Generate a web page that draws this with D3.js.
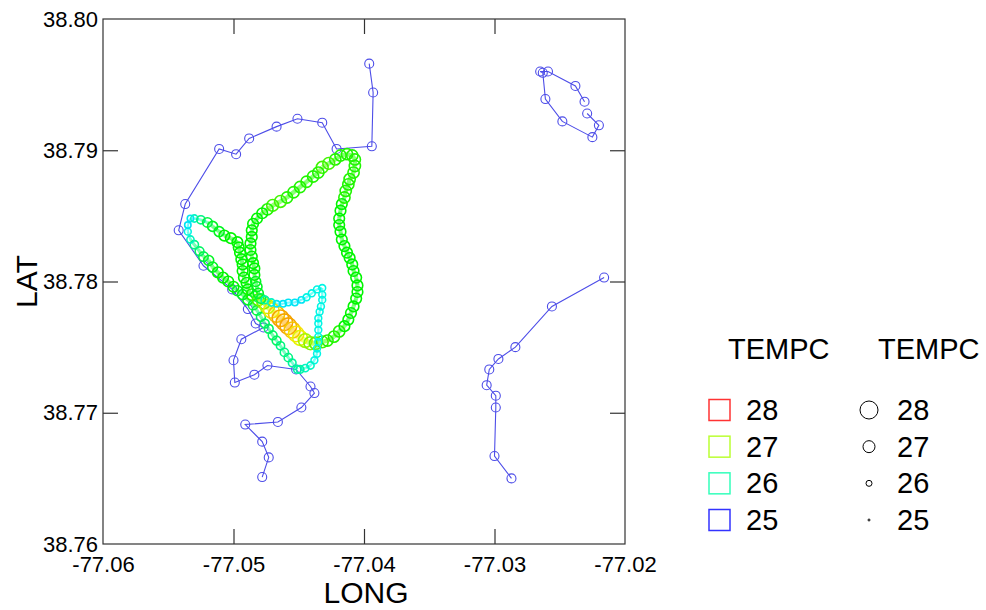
<!DOCTYPE html>
<html><head><meta charset="utf-8">
<script src="https://cdn.jsdelivr.net/npm/d3@7"></script>
<style>body{margin:0;background:#fff} text{font-family:"Liberation Sans",Arial,sans-serif;fill:#000}</style>
</head><body><svg id="c" width="986" height="610"></svg>
<script>
// ---- axis ticks ----
const LONG_TICKS = [-77.06, -77.05, -77.04, -77.03, -77.02];
const LAT_TICKS = [38.76, 38.77, 38.78, 38.79, 38.80];
const LEGEND_TEMPS = [28, 27, 26, 25];

// ---- sparse tracks (TEMPC ~25) ----
const trackA_long = [-77.0396,-77.0393,-77.0394,-77.0421,-77.0432,-77.0451,-77.0467,-77.0488,-77.0498,-77.0511,-77.0537,-77.0542,-77.0523,-77.0501,-77.0489,-77.0483,-77.0477,-77.0494,-77.0500,-77.0499,-77.0484,-77.0474,-77.0452,-77.0441,-77.0438,-77.0448,-77.0466,-77.0491,-77.0478,-77.0473,-77.0478];
const trackA_lat  = [38.7966,38.7944,38.7903,38.7901,38.7921,38.7924,38.7918,38.7909,38.7897,38.7901,38.7859,38.7839,38.7812,38.7794,38.7779,38.7768,38.7765,38.7756,38.7740,38.7723,38.7729,38.7736,38.7733,38.7720,38.7715,38.7704,38.7693,38.7691,38.7678,38.7666,38.7651];
const trackB_long = [-77.0229,-77.0220,-77.0225,-77.0248,-77.0261,-77.0263,-77.0265,-77.0259,-77.0238,-77.0231];
const trackB_lat  = [38.7928,38.7919,38.7910,38.7922,38.7939,38.7959,38.7960,38.7960,38.7949,38.7937];
const trackC_long = [-77.0216,-77.0256,-77.0284,-77.0297,-77.0304,-77.0306,-77.0299,-77.0299,-77.0300,-77.0287];
const trackC_lat  = [38.7803,38.7781,38.7750,38.7741,38.7733,38.7721,38.7713,38.7704,38.7667,38.7650];

// ---- dense track with temperature ----
const dense_long = [
 -77.0451,-77.0455,-77.0458,-77.0461,-77.0464,-77.0467,-77.0470,-77.0473,-77.0476,-77.0479,-77.0482,-77.0485,-77.0489,-77.0493,-77.0497,-77.0500,-77.0504,-77.0508,-77.0512,-77.0516,-77.0519,-77.0523,-77.0526,-77.0530,-77.0533,-77.0535,-77.0535,-77.0533,
 -77.0530,-77.0525,-77.0520,-77.0516,-77.0511,-77.0507,-77.0502,-77.0497,-77.0496,-77.0495,-77.0494,-77.0493,-77.0493,-77.0492,-77.0490,-77.0489,-77.0486,-77.0481,
 -77.0477,-77.0474,-77.0471,-77.0467,-77.0464,-77.0461,-77.0458,-77.0455,-77.0452,-77.0449,-77.0445,-77.0441,-77.0437,-77.0432,-77.0428,-77.0423,-77.0419,-77.0415,-77.0412,-77.0410,-77.0408,-77.0406,-77.0405,-77.0405,-77.0406,-77.0408,-77.0409,-77.0411,-77.0413,-77.0415,-77.0417,-77.0418,-77.0419,-77.0419,-77.0418,-77.0417,-77.0415,-77.0414,-77.0412,-77.0411,-77.0408,-77.0407,-77.0407,-77.0409,-77.0413,-77.0418,-77.0422,-77.0427,-77.0432,-77.0435,-77.0439,-77.0444,-77.0449,-77.0454,-77.0459,-77.0464,-77.0470,-77.0474,-77.0478,-77.0482,-77.0485,-77.0486,-77.0486,-77.0487,-77.0487,-77.0486,-77.0485,-77.0484,-77.0484,-77.0483,-77.0482,-77.0481,-77.0479,
 -77.0476,-77.0471,-77.0467,-77.0462,-77.0458,-77.0453,-77.0448,-77.0444,-77.0440,-77.0436,-77.0432,-77.0432,-77.0432,-77.0433,-77.0434,-77.0435,-77.0435,-77.0435,-77.0435,-77.0435,-77.0436,-77.0436,-77.0438,-77.0441,-77.0445,-77.0449];
const dense_lat = [
 38.7733,38.7738,38.7742,38.7746,38.7751,38.7755,38.7759,38.7764,38.7768,38.7773,38.7778,38.7782,38.7786,38.7790,38.7793,38.7796,38.7800,38.7803,38.7807,38.7811,38.7816,38.7819,38.7823,38.7828,38.7832,38.7838,38.7843,38.7848,
 38.7848,38.7847,38.7845,38.7842,38.7838,38.7835,38.7833,38.7830,38.7826,38.7822,38.7817,38.7813,38.7808,38.7803,38.7799,38.7794,38.7790,38.7786,
 38.7784,38.7781,38.7778,38.7775,38.7772,38.7769,38.7766,38.7763,38.7760,38.7757,38.7755,38.7753,38.7753,38.7754,38.7755,38.7758,38.7762,38.7766,38.7771,38.7776,38.7781,38.7787,38.7792,38.7797,38.7803,38.7808,38.7813,38.7818,38.7822,38.7827,38.7832,38.7838,38.7843,38.7848,38.7854,38.7859,38.7864,38.7869,38.7874,38.7878,38.7883,38.7888,38.7893,38.7896,38.7897,38.7896,38.7893,38.7890,38.7887,38.7883,38.7880,38.7876,38.7872,38.7868,38.7864,38.7861,38.7858,38.7855,38.7852,38.7848,38.7844,38.7839,38.7834,38.7829,38.7824,38.7819,38.7814,38.7810,38.7805,38.7800,38.7796,38.7791,38.7787,
 38.7786,38.7784,38.7783,38.7783,38.7784,38.7784,38.7786,38.7788,38.7791,38.7794,38.7795,38.7790,38.7786,38.7781,38.7777,38.7772,38.7768,38.7763,38.7758,38.7754,38.7749,38.7745,38.7740,38.7736,38.7734,38.7733];
const dense_temp = [
 26.0,26.0,26.1,26.1,26.1,26.2,26.2,26.2,26.2,26.2,26.3,26.3,26.4,26.4,26.4,26.5,26.5,26.5,26.5,26.4,26.4,26.3,26.2,26.1,25.9,25.8,25.7,25.7,
 25.9,26.1,26.3,26.4,26.4,26.5,26.5,26.5,26.5,26.5,26.5,26.5,26.5,26.5,26.5,26.5,26.6,26.7,
 26.9,27.1,27.3,27.4,27.5,27.5,27.5,27.4,27.3,27.2,27.0,26.9,26.8,26.7,26.6,26.6,26.6,26.5,26.5,26.5,26.5,26.5,26.5,26.5,26.5,26.5,26.5,26.5,26.5,26.5,26.5,26.5,26.5,26.5,26.5,26.5,26.6,26.6,26.6,26.6,26.6,26.6,26.6,26.6,26.6,26.6,26.6,26.7,26.7,26.6,26.6,26.6,26.6,26.6,26.6,26.7,26.7,26.6,26.5,26.5,26.5,26.5,26.5,26.5,26.5,26.5,26.5,26.5,26.5,26.4,26.4,26.4,26.3,
 26.0,25.9,25.7,25.7,25.7,25.7,25.7,25.8,25.8,25.8,25.8,25.8,25.8,25.8,25.8,25.8,25.8,25.8,25.8,25.8,25.8,25.8,25.8,25.9,25.9,26.0];

// ---- setup ----
const svg = d3.select("#c");
const L = 103, R = 625, T = 19, B = 544;
const x = d3.scaleLinear().domain([-77.06, -77.02]).range([L, R]);
const y = d3.scaleLinear().domain([38.76, 38.80]).range([B, T]);
const rScale = d3.scaleLinear().domain([25, 26, 27, 28]).range([1, 3, 6, 9]);
const hue = d3.scaleLinear().domain([25, 28]).range([240, 0]).clamp(true);
const tcol = (t, l) => d3.hsl(hue(t), 1, l).formatHex();
const BLUE = "#4d4de8";
const FONT = '"Liberation Sans", Arial, sans-serif';

// frame
svg.append("rect").attr("x", L).attr("y", T).attr("width", R - L).attr("height", B - T)
  .attr("fill", "none").attr("stroke", "#333").attr("stroke-width", 1.2);

// inward ticks on all sides
const inner = LONG_TICKS.slice(1, -1), innerY = LAT_TICKS.slice(1, -1);
function tickAxis(axis, tx, ty) {
  const g = svg.append("g").attr("transform", `translate(${tx},${ty})`).call(axis);
  g.select(".domain").remove();
  g.selectAll("line").attr("stroke", "#333").attr("stroke-width", 1.2);
  g.selectAll("text").remove();
}
tickAxis(d3.axisBottom(x).tickValues(inner).tickSize(-15), 0, B);
tickAxis(d3.axisTop(x).tickValues(inner).tickSize(-15), 0, T);
tickAxis(d3.axisLeft(y).tickValues(innerY).tickSize(-15), L, 0);
tickAxis(d3.axisRight(y).tickValues(innerY).tickSize(-15), R, 0);

// tick labels
const gx = svg.append("g").attr("transform", `translate(0,${B})`)
  .call(d3.axisBottom(x).tickValues(LONG_TICKS).tickSize(0).tickPadding(0).tickFormat(d => d.toFixed(2)));
gx.select(".domain").remove();
gx.selectAll("text").attr("font-size", 22).attr("dy", null).attr("y", 28)
  .style("font-family", FONT).attr("fill", "#000");
const gy = svg.append("g").attr("transform", `translate(${L},0)`)
  .call(d3.axisLeft(y).tickValues(LAT_TICKS).tickSize(0).tickPadding(5).tickFormat(d => d.toFixed(2)));
gy.select(".domain").remove();
gy.selectAll("text").attr("font-size", 22)
  .style("font-family", FONT).attr("fill", "#000");

// axis titles
svg.append("text").attr("x", (L + R) / 2 + 2).attr("y", 603).attr("text-anchor", "middle")
  .attr("font-size", 30).text("LONG");
svg.append("text").attr("transform", `translate(37,${(T + B) / 2}) rotate(-90)`)
  .attr("text-anchor", "middle").attr("font-size", 30).text("LAT");

const plot = svg.append("g");

// sparse tracks
[[trackA_long, trackA_lat], [trackB_long, trackB_lat], [trackC_long, trackC_lat]].forEach(([lo, la]) => {
  const pts = lo.map((v, i) => [x(v), y(la[i])]);
  plot.append("path").attr("d", d3.line()(pts)).attr("fill", "none")
    .attr("stroke", BLUE).attr("stroke-width", 1.1);
  plot.selectAll(null).data(pts).join("circle")
    .attr("cx", d => d[0]).attr("cy", d => d[1]).attr("r", 4.5)
    .attr("fill", "none").attr("stroke", BLUE).attr("stroke-width", 1.1);
});

// dense track
const dense = dense_long.map((v, i) => ({ px: x(v), py: y(dense_lat[i]), t: dense_temp[i] }));
plot.selectAll(null).data(d3.pairs(dense)).join("line")
  .attr("x1", d => d[0].px).attr("y1", d => d[0].py)
  .attr("x2", d => d[1].px).attr("y2", d => d[1].py)
  .attr("stroke", d => tcol(d[0].t, 0.5)).attr("stroke-width", d => Math.max(1.5, rScale(d[0].t) * 0.9))
  .attr("stroke-opacity", 0.55);
plot.selectAll(null).data(dense).join("circle")
  .attr("cx", d => d.px).attr("cy", d => d.py).attr("r", d => rScale(d.t) + 0.8)
  .attr("fill", "none").attr("stroke", d => tcol(d.t, 0.48)).attr("stroke-width", 1.6);

// legends
svg.append("text").attr("x", 728).attr("y", 359).attr("font-size", 29).text("TEMPC");
svg.append("text").attr("x", 878).attr("y", 359).attr("font-size", 29).text("TEMPC");
const rowY = d3.scalePoint().domain(LEGEND_TEMPS).range([410, 520]);
const lg = svg.append("g");
lg.selectAll(null).data(LEGEND_TEMPS).join("rect")
  .attr("x", 709).attr("y", d => rowY(d) - 10.5).attr("width", 21).attr("height", 21)
  .attr("fill", "none").attr("stroke", d => tcol(d, 0.6)).attr("stroke-width", 1.5);
lg.selectAll(null).data(LEGEND_TEMPS).join("text")
  .attr("x", 746).attr("y", d => rowY(d) + 10).attr("font-size", 29).text(d => d);
lg.selectAll(null).data(LEGEND_TEMPS).join("circle")
  .attr("cx", 869).attr("cy", d => rowY(d)).attr("r", d => rScale(d))
  .attr("fill", "none").attr("stroke", "#000").attr("stroke-width", 1);
lg.selectAll(null).data(LEGEND_TEMPS).join("text")
  .attr("x", 897).attr("y", d => rowY(d) + 10).attr("font-size", 29).text(d => d);
</script></body></html>
